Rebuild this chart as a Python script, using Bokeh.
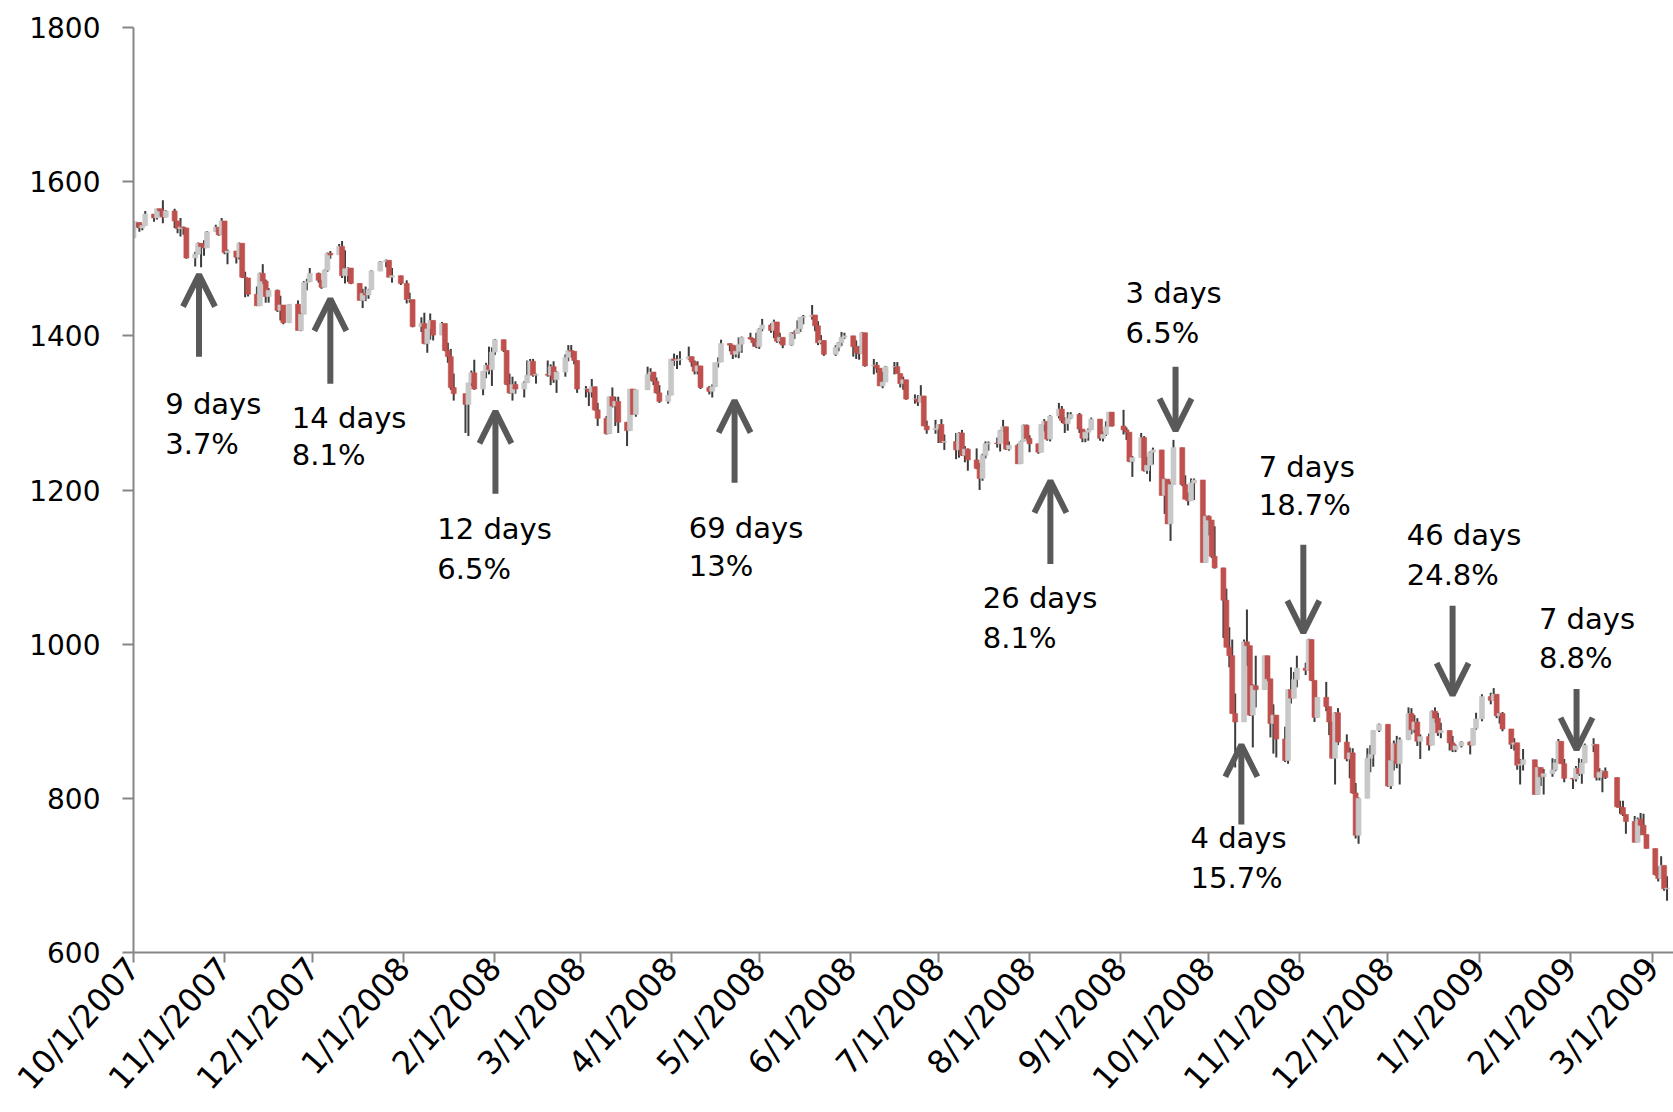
import math
import pandas as pd
from bokeh.plotting import figure
from bokeh.models import Range1d, FixedTicker, Arrow, OpenHead, ColumnDataSource
from bokeh.core.properties import value
from bokeh.embed import file_html
from bokeh.resources import INLINE

# S&P 500 daily candles, 10/1/2007 - 3/6/2009 (one line per month)
opens = [
    1527, 1547, 1547, 1540, 1543, 1558, 1553, 1565, 1562, 1554, 1562, 1549, 1539, 1541, 1540, 1501, 1506, 1520, 1516, 1514, 1535, 1541, 1531,
    1549, 1508, 1510, 1502, 1520, 1476, 1475, 1454, 1439, 1481, 1471, 1451, 1459, 1433, 1440, 1417, 1441, 1407, 1428, 1469, 1470,
    1481, 1472, 1463, 1485, 1507, 1505, 1516, 1478, 1487, 1488, 1468, 1446, 1455, 1453, 1460, 1484, 1496, 1498, 1476, 1478,
    1468, 1447, 1447, 1412, 1416, 1390, 1409, 1420, 1401, 1416, 1381, 1373, 1333, 1325, 1311, 1339, 1352, 1331, 1354, 1362, 1356,
    1379, 1395, 1381, 1337, 1326, 1337, 1331, 1339, 1349, 1367, 1349, 1350, 1349, 1360, 1343, 1353, 1372, 1381, 1380, 1368,
    1331, 1331, 1327, 1334, 1304, 1293, 1273, 1321, 1309, 1315, 1288, 1277, 1331, 1298, 1330, 1350, 1353, 1341, 1326, 1315,
    1323, 1370, 1368, 1369, 1370, 1373, 1366, 1354, 1361, 1333, 1328, 1334, 1365, 1366, 1390, 1388, 1376, 1380, 1389, 1398, 1396, 1391,
    1386, 1409, 1414, 1407, 1418, 1393, 1398, 1388, 1404, 1403, 1409, 1424, 1425, 1427, 1413, 1391, 1394, 1376, 1385, 1391, 1398,
    1400, 1386, 1378, 1377, 1404, 1361, 1362, 1358, 1335, 1340, 1360, 1360, 1351, 1338, 1343, 1318, 1318, 1314, 1322, 1283, 1278,
    1280, 1285, 1262, 1263, 1252, 1274, 1245, 1253, 1239, 1228, 1215, 1245, 1260, 1261, 1260, 1277, 1282, 1253, 1258, 1234, 1263, 1284,
    1267, 1260, 1249, 1285, 1289, 1266, 1296, 1305, 1290, 1286, 1293, 1298, 1279, 1267, 1275, 1278, 1292, 1267, 1272, 1282, 1301,
    1283, 1278, 1275, 1237, 1242, 1268, 1225, 1232, 1249, 1252, 1193, 1214, 1156, 1207, 1255, 1207, 1188, 1186, 1209, 1213, 1106,
    1166, 1161, 1114, 1099, 1057, 996, 985, 910, 899, 1003, 998, 908, 946, 941, 985, 955, 897, 908, 877, 849, 941, 930, 954,
    969, 966, 1006, 953, 905, 931, 919, 899, 852, 911, 873, 851, 859, 807, 752, 800, 852, 857, 888,
    896, 816, 849, 871, 845, 876, 910, 889, 899, 874, 880, 869, 913, 904, 885, 888, 872, 863, 868, 873, 869, 891,
    903, 932, 927, 935, 907, 910, 890, 870, 872, 843, 844, 850, 805, 840, 828, 832, 837, 846, 874, 845,
    826, 825, 839, 832, 846, 869, 870, 827, 834, 835, 827, 789, 788, 779, 770, 743, 773, 765, 753,
    735, 701, 696, 713, 682.6,
]
highs = [
    1549, 1548, 1547, 1544, 1562, 1558, 1565, 1565, 1576, 1563, 1565, 1549, 1553, 1542, 1540, 1509, 1521, 1520, 1524, 1536, 1544, 1541, 1553,
    1549, 1512, 1510, 1521, 1520, 1483, 1475, 1464, 1482, 1493, 1473, 1462, 1460, 1452, 1440, 1441, 1446, 1430, 1471, 1474, 1488,
    1482, 1472, 1486, 1508, 1510, 1519, 1523, 1511, 1489, 1488, 1468, 1461, 1464, 1461, 1485, 1497, 1499, 1498, 1488, 1478,
    1472, 1456, 1447, 1424, 1430, 1409, 1429, 1420, 1418, 1416, 1391, 1383, 1351, 1325, 1339, 1355, 1369, 1354, 1365, 1386, 1385,
    1396, 1395, 1381, 1351, 1347, 1341, 1341, 1368, 1370, 1370, 1351, 1368, 1363, 1367, 1354, 1376, 1388, 1388, 1380, 1368,
    1335, 1331, 1344, 1334, 1313, 1296, 1321, 1333, 1321, 1321, 1288, 1331, 1331, 1330, 1360, 1358, 1353, 1346, 1336, 1329,
    1370, 1377, 1375, 1380, 1386, 1373, 1368, 1367, 1361, 1335, 1337, 1365, 1372, 1395, 1390, 1388, 1387, 1398, 1399, 1404, 1397, 1404,
    1410, 1422, 1416, 1421, 1418, 1404, 1398, 1405, 1407, 1420, 1424, 1427, 1440, 1427, 1419, 1401, 1394, 1388, 1392, 1405, 1404,
    1400, 1394, 1387, 1405, 1404, 1370, 1366, 1358, 1353, 1361, 1366, 1366, 1351, 1347, 1343, 1324, 1323, 1336, 1322, 1290, 1291,
    1285, 1292, 1272, 1274, 1275, 1278, 1257, 1254, 1254, 1235, 1247, 1263, 1263, 1268, 1278, 1291, 1282, 1263, 1260, 1264, 1285, 1285,
    1271, 1260, 1285, 1292, 1289, 1297, 1313, 1309, 1294, 1301, 1301, 1300, 1279, 1277, 1280, 1294, 1292, 1276, 1289, 1301, 1301,
    1304, 1281, 1275, 1244, 1274, 1270, 1243, 1250, 1255, 1252, 1215, 1214, 1211, 1265, 1255, 1219, 1197, 1215, 1215, 1213, 1167,
    1167, 1161, 1153, 1099, 1072, 1022, 1006, 936, 1006, 1045, 998, 948, 985, 985, 985, 955, 922, 908, 893, 941, 970, 964, 985,
    976, 1007, 1006, 953, 931, 951, 919, 899, 912, 917, 883, 866, 865, 820, 801, 865, 869, 888, 897,
    896, 850, 875, 881, 879, 918, 917, 908, 904, 883, 884, 914, 918, 911, 898, 888, 881, 870, 874, 874, 891, 911,
    935, 937, 943, 935, 911, 912, 890, 878, 872, 851, 864, 850, 841, 840, 838, 852, 851, 877, 874, 851,
    826, 842, 852, 851, 871, 878, 870, 839, 836, 840, 827, 797, 797, 779, 777, 775, 781, 780, 753,
    735, 712, 725, 713, 699,
]
lows = [
    1527, 1541, 1535, 1537, 1543, 1548, 1551, 1555, 1546, 1554, 1540, 1533, 1529, 1531, 1500, 1490, 1506, 1489, 1504, 1514, 1535, 1530, 1531,
    1506, 1493, 1494, 1499, 1475, 1450, 1451, 1439, 1439, 1467, 1443, 1443, 1431, 1420, 1415, 1417, 1407, 1406, 1428, 1459, 1470,
    1469, 1461, 1463, 1483, 1500, 1505, 1475, 1468, 1470, 1467, 1446, 1436, 1445, 1448, 1460, 1484, 1489, 1476, 1469, 1466,
    1442, 1443, 1411, 1405, 1389, 1378, 1395, 1394, 1401, 1380, 1365, 1330, 1316, 1274, 1270, 1335, 1330, 1323, 1345, 1350, 1335,
    1375, 1379, 1336, 1325, 1316, 1325, 1320, 1339, 1349, 1347, 1338, 1347, 1336, 1339, 1326, 1347, 1367, 1372, 1363, 1326,
    1320, 1309, 1320, 1303, 1283, 1272, 1273, 1307, 1283, 1274, 1257, 1277, 1298, 1295, 1330, 1342, 1336, 1325, 1313, 1312,
    1323, 1361, 1357, 1362, 1369, 1360, 1350, 1350, 1331, 1324, 1320, 1334, 1359, 1366, 1380, 1370, 1372, 1371, 1378, 1395, 1386, 1384,
    1383, 1406, 1404, 1397, 1391, 1390, 1384, 1387, 1396, 1403, 1405, 1415, 1421, 1406, 1388, 1389, 1374, 1374, 1380, 1387, 1396,
    1373, 1370, 1369, 1377, 1360, 1350, 1352, 1335, 1332, 1340, 1350, 1351, 1333, 1330, 1317, 1312, 1309, 1314, 1283, 1273, 1273,
    1261, 1261, 1252, 1240, 1242, 1244, 1236, 1225, 1227, 1200, 1212, 1241, 1251, 1255, 1250, 1276, 1252, 1251, 1234, 1234, 1263, 1264,
    1249, 1247, 1249, 1276, 1264, 1263, 1293, 1287, 1274, 1277, 1292, 1274, 1262, 1262, 1264, 1278, 1264, 1263, 1270, 1282, 1282,
    1272, 1265, 1236, 1217, 1242, 1224, 1221, 1211, 1233, 1193, 1169, 1156, 1134, 1207, 1205, 1188, 1180, 1186, 1187, 1106, 1106,
    1141, 1112, 1098, 1008, 996, 970, 910, 840, 899, 972, 907, 866, 918, 941, 952, 879, 858, 853, 847, 845, 923, 930, 944,
    960, 966, 952, 899, 905, 913, 882, 852, 818, 869, 848, 826, 806, 748, 741, 800, 834, 841, 886,
    815, 812, 836, 839, 818, 876, 883, 885, 868, 851, 862, 869, 898, 881, 878, 862, 860, 860, 866, 857, 869, 889,
    900, 922, 927, 904, 897, 887, 864, 862, 837, 818, 836, 805, 805, 816, 805, 828, 835, 846, 845, 821,
    812, 822, 829, 819, 846, 860, 823, 823, 808, 825, 788, 780, 777, 754, 743, 743, 752, 752, 735,
    700, 692, 696, 680, 667,
]
closes = [
    1547, 1547, 1540, 1543, 1558, 1553, 1565, 1562, 1554, 1562, 1549, 1539, 1541, 1540, 1501, 1506, 1520, 1516, 1514, 1535, 1541, 1531, 1549,
    1508, 1510, 1502, 1520, 1476, 1475, 1454, 1439, 1481, 1471, 1451, 1459, 1433, 1440, 1417, 1441, 1407, 1428, 1469, 1470, 1481,
    1472, 1463, 1485, 1507, 1505, 1516, 1478, 1487, 1488, 1468, 1446, 1455, 1453, 1460, 1484, 1496, 1498, 1476, 1478, 1468,
    1447, 1447, 1412, 1416, 1390, 1409, 1420, 1401, 1416, 1381, 1373, 1333, 1325, 1311, 1339, 1352, 1331, 1354, 1362, 1356, 1379,
    1395, 1381, 1337, 1326, 1337, 1331, 1339, 1349, 1367, 1349, 1350, 1349, 1360, 1343, 1353, 1372, 1381, 1380, 1368, 1331,
    1331, 1327, 1334, 1304, 1293, 1273, 1321, 1309, 1315, 1288, 1277, 1331, 1298, 1330, 1350, 1353, 1341, 1326, 1315, 1323,
    1370, 1368, 1369, 1370, 1373, 1366, 1354, 1361, 1333, 1328, 1334, 1365, 1366, 1390, 1388, 1376, 1380, 1389, 1398, 1396, 1391, 1386,
    1409, 1414, 1407, 1418, 1393, 1398, 1388, 1404, 1403, 1409, 1424, 1425, 1427, 1413, 1391, 1394, 1376, 1385, 1391, 1398, 1400,
    1386, 1378, 1377, 1404, 1361, 1362, 1358, 1335, 1340, 1360, 1360, 1351, 1338, 1343, 1318, 1318, 1314, 1322, 1283, 1278, 1280,
    1285, 1262, 1263, 1252, 1274, 1245, 1253, 1239, 1228, 1215, 1245, 1260, 1261, 1260, 1277, 1282, 1253, 1258, 1234, 1263, 1284, 1267,
    1260, 1249, 1285, 1289, 1266, 1296, 1305, 1290, 1286, 1293, 1298, 1279, 1267, 1275, 1278, 1292, 1267, 1272, 1282, 1301, 1283,
    1278, 1275, 1237, 1242, 1268, 1225, 1232, 1249, 1252, 1193, 1214, 1156, 1207, 1255, 1207, 1188, 1186, 1209, 1213, 1106, 1166,
    1161, 1114, 1099, 1057, 996, 985, 910, 899, 1003, 998, 908, 946, 941, 985, 955, 897, 908, 877, 849, 941, 930, 954, 969,
    966, 1006, 953, 905, 931, 919, 899, 852, 911, 873, 851, 859, 807, 752, 800, 852, 857, 888, 896,
    816, 849, 871, 845, 876, 910, 889, 899, 874, 880, 869, 913, 904, 885, 888, 872, 863, 868, 873, 869, 891, 903,
    932, 927, 935, 907, 910, 890, 870, 872, 843, 844, 850, 805, 840, 828, 832, 837, 846, 874, 845, 826,
    825, 839, 832, 846, 869, 870, 827, 834, 835, 827, 789, 788, 779, 770, 743, 773, 765, 753, 735,
    701, 696, 713, 682.6, 683.4,
]

# NYSE closures inside the period
holidays = pd.to_datetime([
    "2007-11-22", "2007-12-25", "2008-01-01", "2008-01-21", "2008-02-18",
    "2008-03-21", "2008-05-26", "2008-07-04", "2008-09-01", "2008-11-27",
    "2008-12-25", "2009-01-01", "2009-01-19", "2009-02-16",
])
trading_days = [d for d in pd.bdate_range("2007-10-01", "2009-03-06") if d not in set(holidays)]
assert len(trading_days) == len(opens) == len(highs) == len(lows) == len(closes)

origin = pd.Timestamp("2007-10-01")
day_num = [(d - origin).days for d in trading_days]

month_starts = pd.date_range("2007-10-01", "2009-03-01", freq="MS")
tick_days = [(d - origin).days for d in month_starts]
tick_labels = {t: f"{d.month}/{d.day}/{d.year}" for t, d in zip(tick_days, month_starts)}

# Rally / decline callouts
note_line1 = ["9 days", "14 days", "12 days", "69 days", "26 days", "3 days", "4 days", "7 days", "46 days", "7 days"]
note_line2 = ["3.7%", "8.1%", "6.5%", "13%", "8.1%", "6.5%", "15.7%", "18.7%", "24.8%", "8.8%"]
note_x = [10.8, 53.9, 103.4, 189.0, 289.1, 337.7, 359.8, 383.0, 433.4, 478.4]
note_y1 = [1311, 1294, 1149, 1151, 1060, 1455, 748, 1230, 1142, 1033]
note_y2 = [1260, 1245, 1098, 1101, 1008.5, 1404, 697, 1180, 1090, 982.5]
arrow_x = [22.3, 67, 123.2, 204.6, 312.1, 354.7, 377.1, 398.2, 449, 491.2]
arrow_tail = [1373, 1338, 1195, 1209.5, 1104, 1360, 766, 1129, 1050, 942]
arrow_tip = [1479.5, 1448, 1302, 1316, 1212, 1277, 869.5, 1015, 934, 863]

UP = "#c8c8c8"
DOWN = "#c0504d"
WICK = "#3c3c3c"
AXIS = "#868686"
ARROW = "#595959"
FONT = "DejaVu Sans"

src = ColumnDataSource(dict(
    x=day_num,
    high=highs,
    low=lows,
    top=[max(o, c) for o, c in zip(opens, closes)],
    bottom=[min(o, c) for o, c in zip(opens, closes)],
    color=[DOWN if c < o else UP for o, c in zip(opens, closes)],
))

p = figure(
    width=1673, height=1112,
    x_range=Range1d(0, 524.2), y_range=Range1d(600, 1800),
    output_backend="svg", toolbar_location=None,
    min_border_left=133, min_border_right=0, min_border_top=27, min_border_bottom=160,
)
p.outline_line_color = None
p.background_fill_color = "white"
p.border_fill_color = "white"
p.xgrid.visible = False
p.ygrid.visible = False

p.segment(x0="x", y0="low", x1="x", y1="high", source=src, line_color=WICK, line_width=2)
p.vbar(x="x", width=1.7, top="top", bottom="bottom", source=src,
       fill_color="color", line_color="color", line_width=0.6)

for ax in (p.xaxis[0], p.yaxis[0]):
    ax.axis_line_color = AXIS
    ax.axis_line_width = 2
    ax.major_tick_line_color = AXIS
    ax.major_tick_line_width = 2
    ax.major_tick_in = 0
    ax.minor_tick_line_color = None
    ax.major_label_text_font = FONT
    ax.major_label_text_color = "black"

p.yaxis.ticker = FixedTicker(ticks=[600, 800, 1000, 1200, 1400, 1600, 1800])
p.yaxis.major_tick_out = 11
p.yaxis.major_label_standoff = 22
p.yaxis.major_label_text_font_size = "28px"

p.xaxis.ticker = FixedTicker(ticks=tick_days)
p.xaxis.major_label_overrides = tick_labels
p.xaxis.major_label_orientation = math.radians(48)
p.xaxis.major_label_text_font_size = "32px"
p.xaxis.major_tick_out = 10
p.xaxis.major_label_standoff = 0

arrows = ColumnDataSource(dict(x0=arrow_x, y0=arrow_tail, x1=arrow_x, y1=arrow_tip))
p.add_layout(Arrow(
    end=OpenHead(size=32, line_width=6, line_color=ARROW),
    x_start="x0", y_start="y0", x_end="x1", y_end="y1", source=arrows,
    line_width=6, line_color=ARROW,
))

p.text(x=note_x, y=note_y1, text=note_line1, text_font=value(FONT), text_font_size="29px",
       text_color="black", text_align="left", text_baseline="alphabetic")
p.text(x=note_x, y=note_y2, text=note_line2, text_font=value(FONT), text_font_size="29px",
       text_color="black", text_align="left", text_baseline="alphabetic")

open("out.html", "w").write(file_html(p, INLINE))
